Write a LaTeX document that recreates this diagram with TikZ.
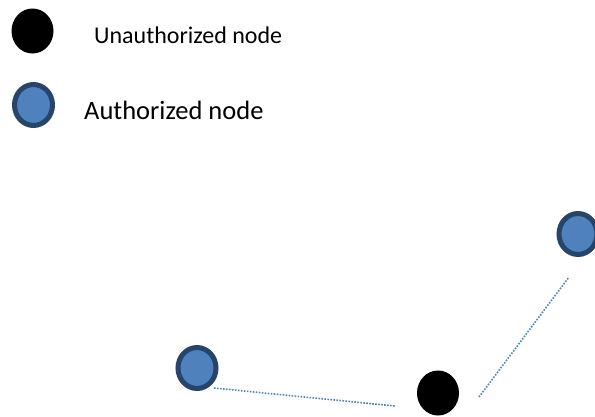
\documentclass[tikz,border=0pt]{standalone}
\usepackage{fontspec}
\setmainfont{Carlito}
\usetikzlibrary{shapes.geometric,calc}
\definecolor{nodefill}{HTML}{4F81BD}
\definecolor{nodeline}{HTML}{27446B}
\definecolor{dotcol}{HTML}{4F81BD}
\tikzset{
  authnode/.style={ellipse, draw=nodeline, line width=5pt, fill=nodefill, minimum width=38pt, minimum height=41pt, inner sep=0pt},
  unauthnode/.style={ellipse, fill=black, minimum width=42pt, minimum height=45pt, inner sep=0pt},
  legendtext/.style={anchor=base west, inner sep=0pt, text=black},
  dotline/.style={draw=dotcol, line width=1.6pt, dash pattern=on 1.6pt off 1.4pt}
}
\begin{document}
\begin{tikzpicture}[x=1pt,y=-1pt]
\useasboundingbox (0,0) rectangle (595,416);
\clip (0,0) rectangle (595,416);
\node[unauthnode] (lu) at (32.5,31) {};
\node[legendtext, font=\fontsize{24}{29}\selectfont] (tu) at (94,43) {Unauthorized node};
\node[authnode] (la) at (33.5,105) {};
\node[legendtext, font=\fontsize{26.5}{32}\selectfont] (ta) at (84,119) {Authorized node};
\node[authnode] (left) at (197,368) {};
\node[authnode] (right) at (578,234) {};
\node[unauthnode] (mid) at (438,393) {};
\draw[dotline] ($(left.center)+(17,20)$) -- ($(mid.center)+(-43,13)$);
\draw[dotline] ($(mid.center)+(41,4)$) -- ($(right.center)+(-9,43)$);
\end{tikzpicture}
\end{document}
